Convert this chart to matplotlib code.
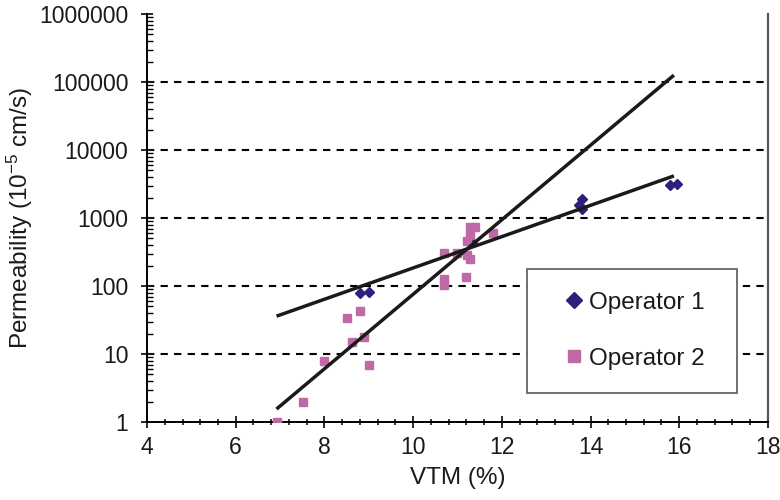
import matplotlib
matplotlib.use("Agg")
import matplotlib.pyplot as plt
from matplotlib.ticker import FixedLocator, MultipleLocator, FuncFormatter, LogLocator, NullFormatter

plt.rcParams["font.family"] = ["Liberation Sans", "DejaVu Sans"]
plt.rcParams["mathtext.default"] = "regular"

# Operator 1 measurements (VTM %, permeability in 1e-5 cm/s)
op1_vtm = [8.80, 9.00, 11.33, 13.73, 13.80, 13.80, 15.80, 15.95]
op1_perm = [79, 81, 444, 1550, 1900, 1350, 3100, 3200]

# Operator 2 measurements
op2_vtm = [6.92, 7.51, 8.00, 8.50, 8.62, 8.80, 8.89, 9.00,
           10.70, 10.70, 10.70, 10.99, 11.19, 11.22, 11.22, 11.28,
           11.28, 11.28, 11.40, 11.81]
op2_perm = [1.0, 2.0, 7.9, 34, 15, 43, 18, 6.9,
            305, 128, 105, 305, 136, 458, 286, 250,
            564, 738, 738, 600]

# exponential trend lines, given by their end points
trend1_vtm = [6.92, 15.88]
trend1_perm = [36, 4160]
trend2_vtm = [6.92, 15.88]
trend2_perm = [1.55, 126000]

grid_levels = [10, 100, 1000, 10000, 100000]
ytick_vals = [1, 10, 100, 1000, 10000, 100000, 1000000]

navy = "#2e1f7c"
pink = "#bf69a6"
ink = "#1a1a1a"

fig = plt.figure(figsize=(7.8, 5), dpi=100)
ax = fig.add_axes([0.1885, 0.156, 0.796, 0.816])
ax.set_yscale("log")

for lvl in grid_levels:
    ax.axhline(lvl, color="black", lw=1.5, linestyle=(0, (3.5, 3)), zorder=1)

ax.plot(op1_vtm, op1_perm, linestyle="none", marker="D", ms=5.2, color=navy,
        mec=navy, label="Operator 1", zorder=3)
ax.plot(op2_vtm, op2_perm, linestyle="none", marker="s", ms=6, color=pink,
        mec=pink, label="Operator 2", zorder=3)
ax.plot(trend1_vtm, trend1_perm, color=ink, lw=2.5, solid_capstyle="butt", zorder=4)
ax.plot(trend2_vtm, trend2_perm, color=ink, lw=2.5, solid_capstyle="butt", zorder=4)

ax.set_xlim(4, 18)
ax.set_ylim(1, 1000000)
ax.xaxis.set_major_locator(MultipleLocator(2))
ax.xaxis.set_minor_locator(MultipleLocator(0.4))
ax.yaxis.set_major_locator(FixedLocator(ytick_vals))
ax.yaxis.set_minor_locator(LogLocator(base=10, subs=range(2, 10)))
ax.yaxis.set_major_formatter(FuncFormatter(lambda v, p: f"{int(round(v))}"))
ax.yaxis.set_minor_formatter(NullFormatter())

ax.tick_params(axis="x", which="major", direction="inout", length=8, width=1.3,
               labelsize=16.5, pad=6, colors=ink)
ax.tick_params(axis="x", which="minor", direction="inout", length=5, width=1.1)
ax.tick_params(axis="y", which="major", direction="inout", length=9, width=1.3,
               labelsize=16.5, pad=9, colors=ink)
ax.tick_params(axis="y", which="minor", direction="in", length=4, width=1.0)

ax.spines["top"].set_visible(False)
ax.spines["right"].set_color("#555555")
ax.spines["right"].set_linewidth(1.6)
ax.spines["left"].set_linewidth(1.4)
ax.spines["bottom"].set_linewidth(1.4)

ax.set_xlabel("VTM (%)", fontsize=17.5, color=ink, labelpad=6)
ax.set_ylabel("Permeability (10$^{-5}$ cm/s)", fontsize=17.5, color=ink, labelpad=3)

leg = ax.legend(loc="lower left", bbox_to_anchor=(0.612, 0.071, 0.338, 0.30),
                mode="expand", fontsize=17.5, markerscale=1.5, numpoints=1,
                handlelength=1.95, handletextpad=-0.33, borderpad=0.95,
                labelspacing=1.4, fancybox=False, framealpha=1, borderaxespad=0)
leg.get_frame().set_edgecolor("#666666")
leg.get_frame().set_linewidth(1.3)
for t in leg.get_texts():
    t.set_color(ink)

fig.savefig("out.png", dpi=100)
